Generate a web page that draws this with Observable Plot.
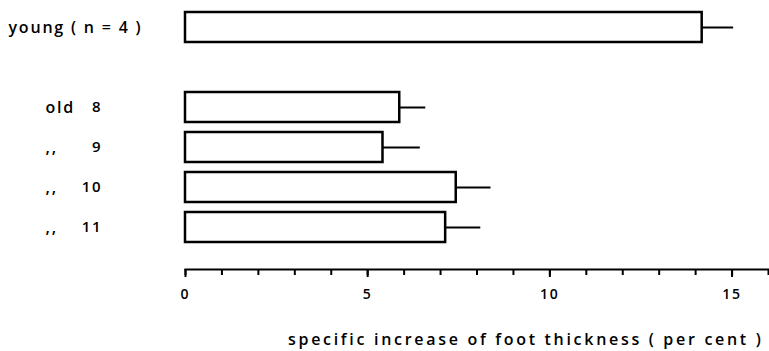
<!DOCTYPE html>
<html>
<head>
<meta charset="utf-8">
<script src="https://cdn.jsdelivr.net/npm/d3@7"></script>
<script src="https://cdn.jsdelivr.net/npm/@observablehq/plot@0.6"></script>
<style>
  html, body { margin: 0; padding: 0; background: #fff; }
  svg { display: block; }
  svg text { letter-spacing: 1.8px; }
</style>
</head>
<body>
<div id="chart"></div>
<script>
// Row keys, in drawing order; "gap" is an empty spacer row between the groups
const rows = ["young", "old 8", "old 9", "old 10", "old 11"];
const rowOrder = ["young", "gap", "old 8", "old 9", "old 10", "old 11"];
// Left part of each row label, and the right-aligned number column
const prefixes = ["young ( n = 4 )", "old", ",,", ",,", ",,"];
const numbers = ["", "8", "9", "10", "11"];
// Mean specific increase of foot thickness (per cent) and its error
const means = [14.18, 5.88, 5.42, 7.43, 7.14];
const errors = [0.85, 0.70, 1.01, 0.94, 0.95];
// Axis ticks
const majorTicks = [0, 5, 10, 15];
const minorTicks = d3.range(0, 17);
const xTitle = "specific increase of foot thickness ( per cent )";

const data = rows.map((r, i) => ({
  row: r,
  prefix: prefixes[i],
  number: numbers[i],
  mean: means[i],
  hi: means[i] + errors[i],
  young: r === "young"
}));

const font = "'Open Sans', sans-serif";

const chart = Plot.plot({
  width: 769,
  height: 351,
  marginTop: 0,
  marginLeft: 185,
  marginRight: 1,
  marginBottom: 82,
  style: { fontFamily: font, fontWeight: 600, fontSize: "14px", color: "#000", background: "#fff" },
  x: { domain: [0, 16] },
  y: { type: "band", domain: rowOrder, range: [5, 249], paddingInner: 0.25, paddingOuter: 0.125, axis: null },
  marks: [
    // whiskers: bar end to mean + error
    Plot.link(data, { x1: "mean", x2: "hi", y1: "row", y2: "row", stroke: "#000", strokeWidth: 2 }),
    Plot.barX(data, { x: "mean", y: "row", fill: "#fff", stroke: "#000", strokeWidth: 2.5 }),
    // row labels
    Plot.text(data.filter(d => d.young), { y: "row", text: "prefix", frameAnchor: "left", textAnchor: "start", dx: -177, fontSize: 16 }),
    Plot.text(data.filter(d => !d.young), { y: "row", text: "prefix", frameAnchor: "left", textAnchor: "start", dx: -140, fontSize: 16 }),
    Plot.text(data, { y: "row", text: "number", frameAnchor: "left", textAnchor: "end", dx: -83, fontSize: 15 }),
    // x axis: baseline, minor and major ticks
    Plot.frame({ anchor: "bottom", stroke: "#000", strokeWidth: 2 }),
    Plot.axisX({ ticks: minorTicks, tickSize: 6, tickFormat: () => "", strokeWidth: 2, label: null }),
    Plot.axisX({ ticks: majorTicks, tickSize: 8, tickPadding: 12, strokeWidth: 2, fontSize: 14, label: null }),
    Plot.text([xTitle], { frameAnchor: "bottom-right", textAnchor: "end", dy: 75, dx: -5, fontSize: 16 })
  ]
});

// wider tracking for the axis title
d3.select(chart).selectAll("text")
  .filter(function () { return this.textContent === xTitle; })
  .style("letter-spacing", "2.7px");

document.getElementById("chart").appendChild(chart);
</script>
</body>
</html>
